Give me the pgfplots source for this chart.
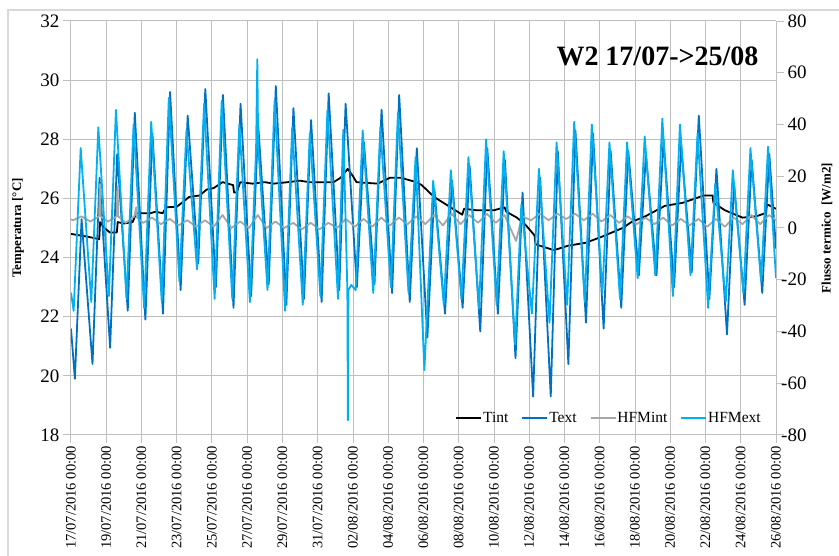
\documentclass[border=0pt]{standalone}
\usepackage{fontspec}
\setmainfont{Liberation Serif}
\usepackage{pgfplots}
\pgfplotsset{compat=1.18}
\definecolor{textblue}{RGB}{0,112,192}
\definecolor{hfblue}{RGB}{0,176,240}
\definecolor{hfgray}{RGB}{166,166,166}
\definecolor{gridgray}{RGB}{191,191,191}
\definecolor{bordergray}{RGB}{217,217,217}
\pgfplotsset{
  mybase/.style={
    at={(0pt,0pt)}, anchor=south west, scale only axis,
    width=705pt, height=414pt, xmin=0, xmax=40,
    axis line style={draw=gridgray, line width=1pt, -},
    tick align=outside, major tick length=8pt,
    tick style={draw=gridgray, line width=1pt},
  },
}
\begin{document}
\begin{tikzpicture}
\useasboundingbox (-71pt,-121pt) rectangle (768pt,435pt);
\draw[bordergray, line width=1.5pt] (-63pt,-300pt) rectangle (900pt,425pt);
\begin{axis}[
  mybase,
  ymin=18, ymax=32,
  ytick={18,20,...,32}, yticklabels={18,20,22,24,26,28,30,32},
  xtick={0,2,...,40},
  xticklabels={17/07/2016 00:00,19/07/2016 00:00,21/07/2016 00:00,23/07/2016 00:00,25/07/2016 00:00,27/07/2016 00:00,29/07/2016 00:00,31/07/2016 00:00,02/08/2016 00:00,04/08/2016 00:00,06/08/2016 00:00,08/08/2016 00:00,10/08/2016 00:00,12/08/2016 00:00,14/08/2016 00:00,16/08/2016 00:00,18/08/2016 00:00,20/08/2016 00:00,22/08/2016 00:00,24/08/2016 00:00,26/08/2016 00:00},
  axis x line*=bottom, axis y line*=left,
  grid=major, major grid style={draw=gridgray, line width=1pt},
  x tick label style={rotate=90, anchor=east, font=\fontsize{14.5}{15}\selectfont, inner sep=3pt},
  y tick label style={font=\fontsize{19}{19}\selectfont},
  ylabel={Temperatura [°C]},
  ylabel style={font=\bfseries\fontsize{13}{13}\selectfont, at={(axis description cs:-0.0752,0.5)}, anchor=center},
  line join=round,
]
\addplot[black, line width=1.8pt] coordinates {
(0,24.8) (0.5,24.75) (1.0,24.7) (1.6,24.62) (1.65,25.2) (1.9,25.0) (2.2,24.85) (2.6,24.85) (2.65,25.2) (3.0,25.15) (3.5,25.2) (3.7,25.5) (4.5,25.5) (4.8,25.55) (5.2,25.5) (5.4,25.7) (6.0,25.72) (6.4,25.9) (6.7,26.05) (7.3,26.1) (7.7,26.3) (8.1,26.35) (8.6,26.55) (9.2,26.45) (9.25,26.2) (9.4,26.2) (9.6,26.55) (10.3,26.5) (11,26.55) (11.5,26.5) (12.3,26.55) (13,26.6) (13.5,26.55) (14.9,26.55) (15.3,26.7) (15.7,27.0) (16.0,26.75) (16.2,26.55) (17.4,26.5) (18.1,26.7) (18.7,26.7) (19.6,26.55) (19.9,26.45) (20.6,26.05) (21.4,25.75) (22.2,25.45) (22.3,25.65) (23.0,25.6) (24.0,25.6) (24.6,25.7) (24.7,25.55) (25.3,25.35) (25.8,25.1) (26.3,24.75) (26.35,24.45) (27.4,24.25) (28.2,24.4) (29.2,24.5) (30.1,24.7) (31.3,25.0) (31.8,25.2) (32.6,25.4) (33.7,25.75) (34.7,25.85) (35.9,26.1) (36.4,26.1) (36.45,25.85) (37.1,25.6) (38.1,25.35) (38.9,25.4) (39.4,25.5) (39.5,25.8) (40,25.65)
};
\addplot[textblue, line width=1.8pt] coordinates {
(0,21.6)
(0.22,19.9) (0.6,25.3)
(1.22,20.4) (1.62,26.7)
(2.22,20.95) (2.62,27.5)
(3.22,22.2) (3.62,28.9)
(4.22,21.9) (4.62,28.2)
(5.22,22.1) (5.62,29.6)
(6.22,22.9) (6.62,28.8)
(7.22,23.8) (7.62,29.7)
(8.22,23.0) (8.62,29.5)
(9.22,22.3) (9.62,29.2)
(10.22,22.7) (10.62,28.5)
(11.22,23.1) (11.62,29.8)
(12.22,22.4) (12.62,29.05)
(13.22,22.6) (13.62,28.65)
(14.22,22.5) (14.62,29.55)
(15.22,22.9) (15.58,29.2)
(16.22,23.0) (16.62,27.9)
(17.22,23.1) (17.62,29.0)
(18.22,22.8) (18.62,29.5)
(19.22,22.5) (19.62,27.7)
(20.22,21.3) (20.62,26.3)
(21.22,22.1) (21.62,26.6)
(22.22,22.3) (22.62,27.1)
(23.22,21.5) (23.62,27.7)
(24.22,22.1) (24.62,27.3)
(25.22,20.6) (25.62,26.2)
(26.22,19.3) (26.62,26.7)
(27.22,19.3) (27.62,27.6)
(28.22,20.4) (28.62,28.3)
(29.22,21.8) (29.62,28.2)
(30.22,21.6) (30.62,27.6)
(31.22,22.3) (31.62,27.6)
(32.22,23.4) (32.62,27.5)
(33.22,23.4) (33.62,28.0)
(34.22,23.0) (34.62,27.8)
(35.22,23.5) (35.62,28.8)
(36.22,22.6) (36.62,27.0)
(37.22,21.4) (37.62,26.5)
(38.22,22.4) (38.62,27.3)
(39.22,22.8) (39.62,27.5)
(40,24.3)
};
\end{axis}
\begin{axis}[
  mybase,
  ymin=-80, ymax=80,
  ytick={-80,-60,...,80},
  yticklabels={\llap{-}80,\llap{-}60,\llap{-}40,\llap{-}20,0,20,40,60,80},
  axis x line=none,
  axis y line*=right,
  y tick label style={font=\fontsize{19}{19}\selectfont, anchor=west},
  ylabel={Flusso termico\ \ [W/m2]},
  ylabel style={font=\bfseries\fontsize{13}{13}\selectfont, at={(axis description cs:1.0723,0.5)}, anchor=center},
  legend style={at={(axis description cs:0.545,0.041)}, anchor=west, draw=none, fill=none,
    font=\fontsize{15.5}{16}\selectfont, legend columns=4,
    /tikz/every even column/.append style={column sep=12pt},
    inner sep=0pt, nodes={inner sep=1pt}},
  legend image code/.code={\draw[#1] (0pt,0pt) -- (25pt,0pt);},
  line join=round,
]
\addlegendimage{black, line width=1.8pt}
\addlegendentry{Tint}
\addlegendimage{textblue, line width=1.8pt}
\addlegendentry{Text}
\addplot[hfgray, line width=1.8pt] coordinates {
(0,3.4)
(0.1,3.0) (0.6,4.5)
(1.1,2.5) (1.6,4.5) (1.64,17) (1.68,4.5)
(2.1,2.5) (2.6,4.5) (2.64,15.8) (2.68,4.5)
(3.1,2.0) (3.6,4.5) (3.7,8) (3.75,4)
(4.1,2.0) (4.6,4)
(5.1,1.5) (5.6,3.5)
(6.1,1.0) (6.6,3.0)
(7.1,0.5) (7.6,3.0)
(8.1,0.5) (8.6,5)
(9.1,0.0) (9.6,2.5)
(10.1,0.0) (10.6,5)
(11.1,0.0) (11.6,2.5)
(12.1,0.0) (12.6,2.0)
(13.1,-0.5) (13.6,2.0)
(14.1,-0.5) (14.6,2.0)
(15.1,0.0) (15.6,3.5)
(16.1,0.5) (16.6,3.5)
(17.1,0.5) (17.6,4)
(18.1,1.0) (18.6,4)
(19.1,1.5) (19.6,4.5)
(20.1,1.5) (20.6,5)
(21.1,1.0) (21.6,5.5)
(22.1,1.5) (22.6,5)
(23.1,2.0) (23.6,5.5)
(24.1,2.0) (24.6,5)
(25.25,-5) (25.6,4.5)
(26.1,3.0) (26.6,5.5)
(27.1,3.0) (27.6,5.5)
(28.1,3.5) (28.6,5.5)
(29.1,3.0) (29.6,5.5)
(30.1,2.5) (30.6,5)
(31.1,2.0) (31.6,4.5)
(32.1,1.5) (32.6,4)
(33.1,1.5) (33.6,4)
(34.1,1.0) (34.6,3.5)
(35.1,1.0) (35.6,3.5)
(36.1,0.5) (36.6,3.5)
(37.1,0.5) (37.6,4)
(38.1,1.5) (38.6,5)
(39.1,1.5) (39.6,5)
(40,3)
};
\addlegendentry{HFMint}
\addplot[hfblue, line width=1.8pt] coordinates {
(0,-25)
(0.15,-32.0) (0.55,30.9)
(1.15,-28.6) (1.55,38.9)
(2.15,-26.3) (2.55,45.7)
(3.15,-27.4) (3.55,40.0)
(4.15,-30.9) (4.55,41.1)
(5.15,-28.6) (5.55,50.3)
(6.15,-20.6) (6.55,37.7)
(7.15,-16.0) (7.55,48.0)
(8.15,-27.4) (8.55,49.1)
(9.15,-27.4) (9.55,40.0)
(10.15,-28.6) (10.5,30) (10.57,65.2) (10.62,32)
(11.15,-24.0) (11.55,49.1)
(12.15,-32.0) (12.55,38.9)
(13.15,-29.7) (13.55,36.6)
(14.15,-26.3) (14.55,45.7)
(15.15,-27.4) (15.45,38) (15.68,-24) (15.71,-74.3) (15.74,-24) (15.9,-22)
(16.15,-24.0) (16.55,37.7)
(17.15,-25.1) (17.55,38.9)
(18.15,-22.9) (18.55,44.6)
(19.15,-25.1) (19.55,27.4)
(20.05,-54.9) (20.55,18.3)
(21.15,-29.7) (21.55,22.3)
(22.15,-27.4) (22.55,27.4)
(23.15,-30.9) (23.55,34.3)
(24.15,-29.7) (24.55,29.7)
(25.2,-45.0) (25.55,9.1)
(26.15,-33.1) (26.55,22.9)
(27.15,-36.6) (27.55,33.1)
(28.15,-29.7) (28.55,41.1)
(29.15,-28.6) (29.55,40.0)
(30.15,-25.1) (30.55,33.1)
(31.15,-27.4) (31.55,33.1)
(32.15,-19.4) (32.55,35.4)
(33.15,-18.3) (33.55,42.3)
(34.15,-26.3) (34.55,40.0)
(35.15,-18.3) (35.55,36.6)
(36.15,-30.9) (36.55,17.1)
(37.15,-28.6) (37.55,22.3)
(38.15,-25.1) (38.55,30.9)
(39.15,-20.6) (39.55,31.4)
(40,-19.4)
};
\addlegendentry{HFMext}
\node[anchor=base east, font=\bfseries\fontsize{28}{28}\selectfont] at (axis description cs:0.980,0.8937) {W2 17/07->25/08};
\end{axis}
\end{tikzpicture}
\end{document}
